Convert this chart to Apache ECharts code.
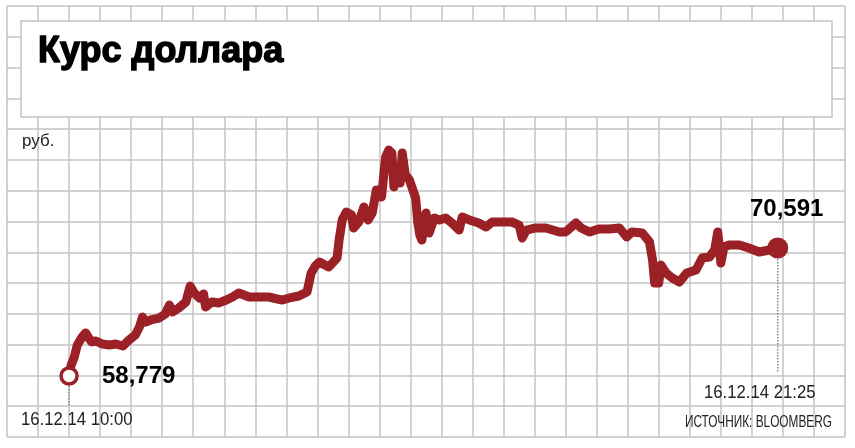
<!DOCTYPE html>
<html>
<head>
<meta charset="utf-8">
<script src="https://cdn.jsdelivr.net/npm/echarts@6/dist/echarts.min.js"></script>
<style>
html,body{margin:0;padding:0;background:#fff;}
#c{width:855px;height:448px;}
</style>
</head>
<body>
<div id="c"></div>
<script>
// ---- data ----
const titleText = 'Курс доллара';
const unitText = 'руб.';
const startDateLabel = '16.12.14 10:00';
const endDateLabel = '16.12.14 21:25';
const sourceText = 'ИСТОЧНИК: BLOOMBERG';

const times = ['10:00','10:02','10:05','10:08','10:12','10:16','10:19','10:22','10:26','10:32',
'10:39','10:45','10:52','10:58','11:04','11:08','11:11','11:14','11:19','11:27',
'11:33','11:37','11:40','11:46','11:53','11:57','12:01','12:06','12:10','12:12',
'12:18','12:25','12:32','12:38','12:44','12:54','13:04','13:13','13:26','13:33',
'13:42','13:50','13:54','13:58','14:02','14:11','14:19','14:21','14:24','14:28',
'14:33','14:35','14:40','14:45','14:49','14:53','14:57','15:02','15:04','15:06',
'15:09','15:12','15:14','15:17','15:20','15:22','15:25','15:29','15:33','15:35',
'15:37','15:39','15:41','15:45','15:48','15:53','15:58','16:04','16:10','16:17',
'16:20','16:27','16:36','16:43','16:49','16:59','17:08','17:15','17:18','17:22',
'17:31','17:41','17:54','18:00','18:10','18:15','18:23','18:32','18:42','18:52',
'18:59','19:04','19:14','19:21','19:24','19:26','19:30','19:32','19:37','19:43',
'19:50','19:57','20:06','20:12','20:19','20:24','20:27','20:30','20:33','20:38',
'20:48','20:57','21:07','21:17','21:25'];

const rates = [58.779,59.79,60.53,61.64,62.29,62.75,62.29,61.92,62.01,61.73,
61.64,61.73,61.55,62.10,62.56,63.30,64.22,63.76,63.95,64.13,
64.50,65.33,64.69,65.05,65.61,67.08,66.44,65.98,66.35,65.15,
65.61,65.52,65.79,66.07,66.44,66.07,66.07,66.07,65.79,65.98,
66.16,66.53,68.28,68.93,69.30,68.84,69.67,71.33,73.18,73.91,
73.64,72.44,72.99,74.38,73.18,73.82,75.94,75.30,77.14,78.99,
79.63,79.36,76.22,77.79,76.59,79.36,77.33,76.87,75.76,75.21,
72.99,71.79,71.33,73.82,71.98,73.36,73.18,73.36,72.90,72.25,
73.45,73.18,72.90,72.53,72.99,72.99,72.99,72.71,71.51,72.25,
72.44,72.44,72.07,72.07,72.90,72.44,72.07,72.35,72.35,72.44,
71.61,72.07,71.98,71.15,69.48,67.36,67.36,69.02,68.28,67.82,
67.45,68.28,68.56,69.67,69.76,70.41,72.07,69.21,70.68,70.87,
70.87,70.59,70.22,70.41,70.591];

// ---- build ----
const RED = '#9b2127';
const GRID = '#c3c3c3';
const toMin = s => { const [h, m] = s.split(':').map(Number); return (h - 9) * 60 + m; };
const seriesData = times.map((t, i) => [toMin(t), rates[i]]);
const first = seriesData[0];
const last = seriesData[seriesData.length - 1];
const fmt = v => v.toFixed(3).replace('.', ',');

const chart = echarts.init(document.getElementById('c'), null, {renderer: 'canvas'});

function txt(id, x, y, text, font, fill, align, sx, strokeW) {
  const style = {
    text, font, fill,
    align: align || 'left', textAlign: align || 'left',
    verticalAlign: 'middle', textVerticalAlign: 'middle'
  };
  if (strokeW) { style.stroke = fill; style.lineWidth = strokeW; }
  return {type: 'text', id, x, y, z: 120, scaleX: sx || 1, style};
}

const SANS = '"Liberation Sans", Arial, sans-serif';

const option = {
  animation: false,
  backgroundColor: '#fff',
  grid: {left: 7, right: 10, top: 6, bottom: 11, containLabel: false},
  xAxis: {
    type: 'value', min: 0, max: 810, interval: 30,
    axisLabel: {show: false}, axisTick: {show: false}, axisLine: {show: false},
    splitLine: {show: true, lineStyle: {color: GRID, width: 1.5}}
  },
  yAxis: [
    {
      type: 'value', min: 0, max: 14, interval: 1,
      axisLabel: {show: false}, axisTick: {show: false}, axisLine: {show: false},
      splitLine: {show: true, lineStyle: {color: GRID, width: 1.5}}
    },
    {
      type: 'value', min: 53.15, max: 92.923, show: false,
      splitLine: {show: false}
    }
  ],
  series: [
    {
      type: 'line', yAxisIndex: 1, data: seriesData, showSymbol: false, symbol: 'none',
      lineStyle: {color: RED, width: 9, join: 'round', cap: 'round'}, z: 3
    },
    {
      type: 'scatter', yAxisIndex: 1, data: [first], symbol: 'circle', symbolSize: 16,
      itemStyle: {color: '#fff', borderColor: RED, borderWidth: 3.5, opacity: 1}, z: 5
    },
    {
      type: 'scatter', yAxisIndex: 1, data: [last], symbol: 'circle', symbolSize: 21,
      itemStyle: {color: RED, opacity: 1}, z: 5
    }
  ],
  graphic: [
    {
      type: 'rect', id: 'box', z: 100,
      shape: {x: 21, y: 21, width: 811, height: 96},
      style: {fill: '#fff', stroke: GRID, lineWidth: 1.5}
    },
    txt('title', 38, 52, titleText, 'bold 36px ' + SANS, '#000', 'left', 1, 1.4),
    txt('unit', 22, 141, unitText, '17px ' + SANS, '#222'),
    txt('v0', 102, 376.5, fmt(first[1]), 'bold 24px ' + SANS, '#000'),
    txt('v1', 750, 209, fmt(last[1]), 'bold 24px ' + SANS, '#000'),
    txt('d0', 21, 420, startDateLabel, '19px ' + SANS, '#222', 'left', 0.88),
    txt('d1', 704, 392.5, endDateLabel, '19px ' + SANS, '#222', 'left', 0.88),
    txt('src', 832, 422.5, sourceText, '16px ' + SANS, '#222', 'right', 0.74)
  ]
};
chart.setOption(option);

const p0 = chart.convertToPixel({seriesIndex: 0}, first);
const p1 = chart.convertToPixel({seriesIndex: 0}, last);
chart.setOption({
  graphic: [
    {
      type: 'line', id: 'dot0', z: 4,
      shape: {x1: p0[0], y1: p0[1] + 10, x2: p0[0], y2: p0[1] + 29},
      style: {stroke: '#888', lineWidth: 1.5, lineDash: [1.5, 1.5]}
    },
    {
      type: 'line', id: 'dot1', z: 4,
      shape: {x1: p1[0], y1: p1[1] + 11, x2: p1[0], y2: p1[1] + 124},
      style: {stroke: '#888', lineWidth: 1.5, lineDash: [1.5, 1.5]}
    }
  ]
});
</script>
</body>
</html>
